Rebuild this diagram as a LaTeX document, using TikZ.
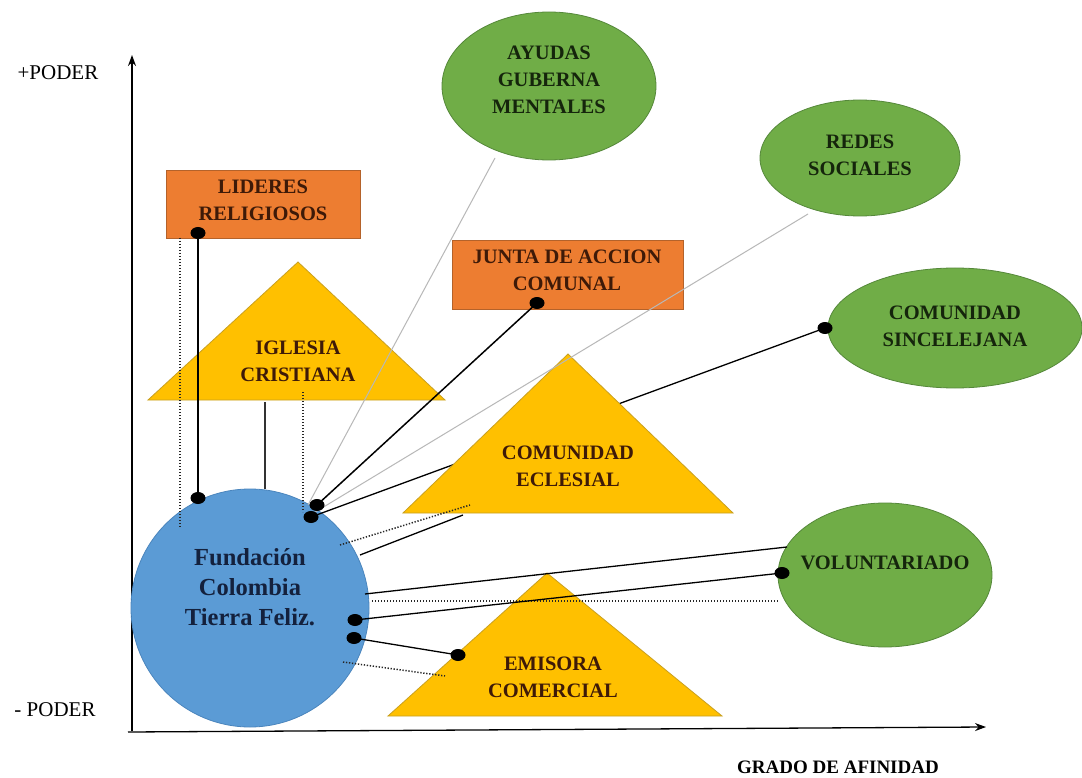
\documentclass[tikz,border=0pt]{standalone}
\usepackage{fontspec}
\setmainfont{Liberation Serif}
\usetikzlibrary{arrows.meta,shapes.geometric}
\definecolor{orng}{HTML}{ED7D31}
\definecolor{orngd}{HTML}{B4622A}
\definecolor{gold}{HTML}{FFC000}
\definecolor{goldd}{HTML}{C9A020}
\definecolor{grn}{HTML}{70AD47}
\definecolor{grnd}{HTML}{55883A}
\definecolor{blu}{HTML}{5B9BD5}
\definecolor{blud}{HTML}{4A85BD}
\definecolor{txtbrown}{HTML}{3E1A08}
\definecolor{txtgreen}{HTML}{15250C}
\definecolor{txtblue}{HTML}{14213D}
\definecolor{lgray}{HTML}{B8B8B8}
\begin{document}
\begin{tikzpicture}[x=1pt,y=-1pt,
  lbl/.style={align=center,font=\bfseries\fontsize{20.5}{27}\selectfont,inner sep=0pt},
  boxo/.style={draw=orngd,line width=0.8pt,fill=orng,minimum width=#1,inner sep=0pt},
  ell/.style={ellipse,draw=grnd,line width=0.8pt,fill=grn,inner sep=0pt,text=txtgreen},
  tri/.style={fill=gold,draw=goldd,line width=0.8pt},
  conn/.style={draw=black,line width=1.5pt},
  thinc/.style={draw=lgray,line width=1pt},
  dotc/.style={draw=black!85,dash pattern=on 1.3pt off 1.7pt,line width=1.5pt},
  axis/.style={draw=black,line width=1.3pt,-{Stealth[length=11pt,width=8pt]}},
  axlbl/.style={font=\fontsize{21}{24}\selectfont,inner sep=0pt}
]
\useasboundingbox[fill=white] (0,0) rectangle (1082,778);

% axes
\coordinate (yo) at (132,731);
\coordinate (yt) at (132,55);
\coordinate (xo) at (128,732);
\coordinate (xt) at (986,727);
\draw[axis] (yo) -- (yt);
\draw[axis] (xo) -- (xt);
\node[axlbl] (pplus) at (58,73) {+PODER};
\node[axlbl] (pminus) at (55,710) {- PODER};
\node[axlbl,font=\bfseries\fontsize{19}{22}\selectfont] (grado) at (838,767) {GRADO DE AFINIDAD};

% main circle
\node[circle,draw=blud,line width=0.8pt,fill=blu,minimum size=238pt,inner sep=0pt] (fund) at (250,608) {};

% line hidden behind the triangle (Comunidad Sincelejana)
\coordinate (sinA) at (825,328);
\coordinate (sinB) at (311,517);
\draw[conn,line width=1.3pt] (sinA) -- (sinB);

% triangles
\coordinate (igA) at (298,262); \coordinate (igL) at (148,400); \coordinate (igR) at (445,400);
\coordinate (ecA) at (568,354); \coordinate (ecL) at (403,513); \coordinate (ecR) at (733,513);
\coordinate (emA) at (547,573); \coordinate (emL) at (388,716); \coordinate (emR) at (722,716);
\path[tri] (igA) -- (igL) -- (igR) -- cycle;
\path[tri] (ecA) -- (ecL) -- (ecR) -- cycle;
\path[tri] (emA) -- (emL) -- (emR) -- cycle;
\node[lbl,text=txtbrown] (iglesia) at (298,361) {IGLESIA\\CRISTIANA};
\node[lbl,text=txtbrown] (eclesial) at (568,466) {COMUNIDAD\\ECLESIAL};
\node[lbl,text=txtbrown] (emisora) at (553,677) {EMISORA\\COMERCIAL};

% rectangles
\node[boxo=194pt,minimum height=68pt] (lideres) at (263,204) {};
\node[lbl,text=txtbrown] (lidt) at (263,200) {LIDERES\\RELIGIOSOS};
\node[boxo=231pt,minimum height=69pt] (junta) at (567.5,274.5) {};
\node[lbl,text=txtbrown] (juntat) at (567,270) {JUNTA DE ACCION\\COMUNAL};

% ellipses
\node[ell,minimum width=214pt,minimum height=148pt] (ayudas) at (549,86) {};
\node[lbl,text=txtgreen] (ayudast) at (549,80) {AYUDAS\\GUBERNA\\MENTALES};
\node[ell,minimum width=200pt,minimum height=116pt] (redes) at (860,158) {};
\node[lbl,text=txtgreen] (redest) at (860,155) {REDES\\SOCIALES};
\node[ell,minimum width=254pt,minimum height=120pt] (sincel) at (955,328) {};
\node[lbl,text=txtgreen] (sincelt) at (955,326) {COMUNIDAD\\SINCELEJANA};
\node[ell,minimum width=214pt,minimum height=144pt] (volun) at (885,575) {};
\node[lbl,text=txtgreen] (volunt) at (885,563) {VOLUNTARIADO};

% circle text
\node[lbl,text=txtblue,font=\bfseries\fontsize{24.5}{30}\selectfont] (fundt) at (250,587) {Fundación\\Colombia\\Tierra Feliz.};

% connector end points
\coordinate (lidA) at (198,233); \coordinate (lidB) at (198,498);
\coordinate (d1A) at (180,238); \coordinate (d1B) at (180,527);
\coordinate (igB1) at (265,402); \coordinate (igB2) at (265,489);
\coordinate (d2A) at (303,392); \coordinate (d2B) at (303,512);
\coordinate (ayA) at (495,158); \coordinate (ayB) at (308,505);
\coordinate (juA) at (537,303); \coordinate (juB) at (317,505);
\coordinate (reA) at (808,214); \coordinate (reB) at (312,514);
\coordinate (d3A) at (340,545); \coordinate (d3B) at (470,505);
\coordinate (ecB1) at (360,555); \coordinate (ecB2) at (463,515);
\coordinate (voA1) at (365,594); \coordinate (voB1) at (787,547);
\coordinate (d4A) at (372,601); \coordinate (d4B) at (778,601);
\coordinate (voA2) at (355,620); \coordinate (voB2) at (782,573);
\coordinate (emB1) at (354,638); \coordinate (emB2) at (458,655);
\coordinate (d5A) at (343,662); \coordinate (d5B) at (445,676);

% connectors
\draw[thinc] (ayA) -- (ayB);
\draw[thinc] (reA) -- (reB);
\draw[conn] (lidA) -- (lidB);
\draw[dotc] (d1A) -- (d1B);
\draw[draw=black!80,line width=1.1pt] (igB1) -- (igB2);
\draw[dotc] (d2A) -- (d2B);
\draw[conn] (juA) -- (juB);
\draw[dotc] (d3A) -- (d3B);
\draw[conn,line width=1.3pt] (ecB1) -- (ecB2);
\draw[conn,line width=1.3pt] (voA1) -- (voB1);
\draw[dotc] (d4A) -- (d4B);
\draw[conn,line width=1.3pt] (voA2) -- (voB2);
\draw[conn,line width=1.3pt] (emB1) -- (emB2);
\draw[dotc] (d5A) -- (d5B);

% dots
\foreach \p in {lidA,lidB,juA,juB,sinA,sinB,voA2,voB2,emB1,emB2}
  \fill[black] (\p) ellipse [x radius=7.5pt, y radius=6pt];
\end{tikzpicture}
\end{document}
